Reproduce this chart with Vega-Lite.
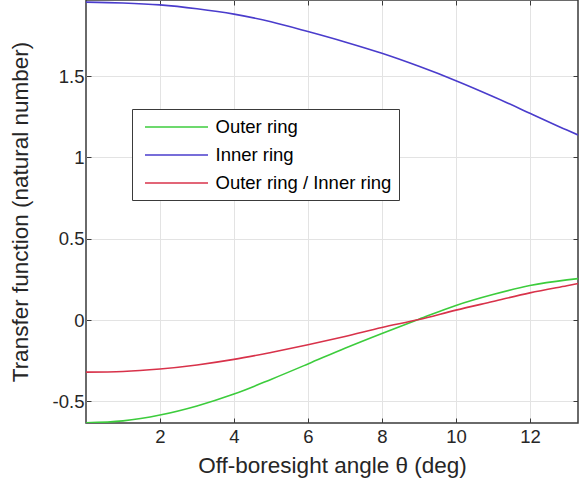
{
  "$schema": "https://vega.github.io/schema/vega-lite/v6.json",
  "width": 492,
  "height": 423,
  "autosize": "none",
  "padding": {"left": 86, "top": 0, "right": 5, "bottom": 70},
  "background": "white",
  "config": {
    "font": "Liberation Sans",
    "view": {"stroke": "#3a3a3a", "strokeWidth": 1.5},
    "axis": {
      "labelFont": "Liberation Sans",
      "titleFont": "Liberation Sans",
      "labelFontSize": 18.5,
      "titleFontSize": 22.5,
      "titleFontWeight": "normal",
      "labelColor": "#262626",
      "titleColor": "#262626",
      "domain": false,
      "tickColor": "#3a3a3a",
      "tickSize": -5,
      "gridColor": "#e3e3e3",
      "gridWidth": 1
    }
  },
  "data": {
    "values": [
      {"theta": 0, "series": "Outer ring", "value": -0.632},
      {"theta": 1, "series": "Outer ring", "value": -0.620},
      {"theta": 2, "series": "Outer ring", "value": -0.584},
      {"theta": 3, "series": "Outer ring", "value": -0.528},
      {"theta": 4, "series": "Outer ring", "value": -0.455},
      {"theta": 5, "series": "Outer ring", "value": -0.365},
      {"theta": 6, "series": "Outer ring", "value": -0.270},
      {"theta": 7, "series": "Outer ring", "value": -0.173},
      {"theta": 8, "series": "Outer ring", "value": -0.082},
      {"theta": 9, "series": "Outer ring", "value": 0.005},
      {"theta": 10, "series": "Outer ring", "value": 0.090},
      {"theta": 11, "series": "Outer ring", "value": 0.157},
      {"theta": 12, "series": "Outer ring", "value": 0.212},
      {"theta": 13, "series": "Outer ring", "value": 0.247},
      {"theta": 13.3, "series": "Outer ring", "value": 0.255},
      {"theta": 0, "series": "Inner ring", "value": 1.955},
      {"theta": 1, "series": "Inner ring", "value": 1.950},
      {"theta": 2, "series": "Inner ring", "value": 1.938},
      {"theta": 3, "series": "Inner ring", "value": 1.914},
      {"theta": 4, "series": "Inner ring", "value": 1.881},
      {"theta": 5, "series": "Inner ring", "value": 1.834},
      {"theta": 6, "series": "Inner ring", "value": 1.774},
      {"theta": 7, "series": "Inner ring", "value": 1.710},
      {"theta": 8, "series": "Inner ring", "value": 1.640},
      {"theta": 9, "series": "Inner ring", "value": 1.560},
      {"theta": 10, "series": "Inner ring", "value": 1.472},
      {"theta": 11, "series": "Inner ring", "value": 1.375},
      {"theta": 12, "series": "Inner ring", "value": 1.272},
      {"theta": 13, "series": "Inner ring", "value": 1.168},
      {"theta": 13.3, "series": "Inner ring", "value": 1.138},
      {"theta": 0, "series": "Outer ring / Inner ring", "value": -0.320},
      {"theta": 1, "series": "Outer ring / Inner ring", "value": -0.316},
      {"theta": 2, "series": "Outer ring / Inner ring", "value": -0.301},
      {"theta": 3, "series": "Outer ring / Inner ring", "value": -0.276},
      {"theta": 4, "series": "Outer ring / Inner ring", "value": -0.242},
      {"theta": 5, "series": "Outer ring / Inner ring", "value": -0.199},
      {"theta": 6, "series": "Outer ring / Inner ring", "value": -0.152},
      {"theta": 7, "series": "Outer ring / Inner ring", "value": -0.101},
      {"theta": 8, "series": "Outer ring / Inner ring", "value": -0.046},
      {"theta": 9, "series": "Outer ring / Inner ring", "value": 0.003},
      {"theta": 10, "series": "Outer ring / Inner ring", "value": 0.061},
      {"theta": 11, "series": "Outer ring / Inner ring", "value": 0.114},
      {"theta": 12, "series": "Outer ring / Inner ring", "value": 0.167},
      {"theta": 13, "series": "Outer ring / Inner ring", "value": 0.211},
      {"theta": 13.3, "series": "Outer ring / Inner ring", "value": 0.224}
    ]
  },
  "layer": [
    {
      "mark": {"type": "line", "strokeWidth": 1.6, "interpolate": "monotone", "clip": true},
      "encoding": {
        "x": {
          "field": "theta", "type": "quantitative",
          "scale": {"domain": [0, 13.3], "nice": false, "zero": false},
          "axis": {
            "title": "Off-boresight angle θ (deg)",
            "values": [2, 4, 6, 8, 10, 12],
            "labelPadding": 9,
            "titlePadding": 9
          }
        },
        "y": {
          "field": "value", "type": "quantitative",
          "scale": {"domain": [-0.633, 1.968], "nice": false, "zero": false},
          "axis": {
            "title": "Transfer function (natural number)",
            "values": [-0.5, 0, 0.5, 1, 1.5],
            "labelExpr": "toString(datum.value)",
            "labelPadding": 7,
            "titlePadding": 20
          }
        },
        "color": {
          "field": "series", "type": "nominal",
          "scale": {
            "domain": ["Outer ring", "Inner ring", "Outer ring / Inner ring"],
            "range": ["#3ccc3c", "#4a3ccc", "#d8324a"]
          },
          "legend": {
            "title": null,
            "orient": "none",
            "legendX": 46,
            "legendY": 109,
            "direction": "vertical",
            "symbolType": "M-3.15,0H3.15",
            "symbolSize": 400,
            "symbolStrokeWidth": 1.6,
            "symbolOffset": 26.5,
            "labelFontSize": 18.5,
            "labelLimit": 400,
            "labelColor": "#000000",
            "labelFont": "Liberation Sans",
            "strokeColor": "#3a3a3a",
            "fillColor": "white",
            "padding": 7,
            "rowPadding": 7,
            "labelOffset": 28
          }
        }
      }
    },
    {
      "mark": {"type": "point", "opacity": 0},
      "encoding": {
        "x": {
          "field": "theta", "type": "quantitative",
          "axis": {"orient": "top", "title": null, "labels": false, "grid": false, "values": [2, 4, 6, 8, 10, 12]}
        },
        "y": {
          "field": "value", "type": "quantitative",
          "axis": {"orient": "right", "title": null, "labels": false, "grid": false, "values": [-0.5, 0, 0.5, 1, 1.5]}
        }
      }
    }
  ],
  "resolve": {"axis": {"x": "independent", "y": "independent"}}
}
